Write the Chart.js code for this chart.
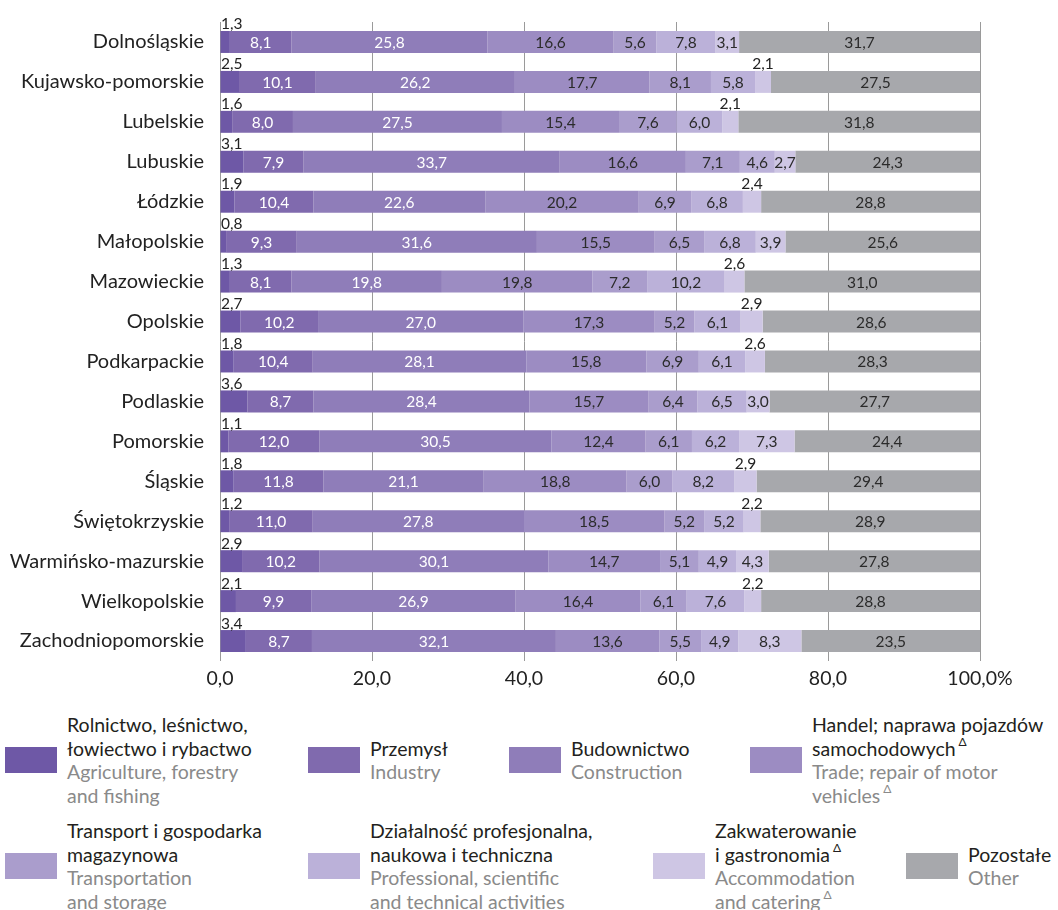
<!DOCTYPE html>
<html lang="pl">
<head>
  <meta charset="UTF-8">
  <title>Struktura pracujących według sekcji</title>
  <script src="https://cdn.jsdelivr.net/npm/chart.js"></script>
  <style>
    body {
      margin: 0;
      padding: 0;
      background: #fff;
      font-family: Lato, "Open Sans", sans-serif;
      width: 1058px;
      height: 910px;
      overflow: hidden;
      position: relative;
    }
    .wykres {
      position: absolute;
      left: 0;
      top: 0;
      width: 1058px;
      height: 700px;
    }
    .legenda-wiersz {
      position: absolute;
      left: 0;
      width: 1058px;
      height: 120px;
    }
    .pozycja {
      position: absolute;
      top: 0;
      height: 120px;
      display: flex;
      align-items: center;
    }
    .kolor {
      width: 52px;
      height: 26px;
      margin-right: 10px;
      flex: none;
    }
    .opis {
      font-size: 19.5px;
      line-height: 23.5px;
      color: #231f20;
      white-space: nowrap;
    }
    .opis .en { color: #8a8a8a; }
    .opis sup { font-size: 12px; line-height: 0; position: relative; top: -2px; margin-left: 3px; }
  </style>
</head>
<body>
  <div class="wykres"><canvas id="wykres"></canvas></div>

  <div class="legenda-wiersz" style="top:700px">
    <div class="pozycja" style="left:5px"><div class="kolor" style="background:#6e58a6"></div>
      <div class="opis">Rolnictwo, leśnictwo,<br>łowiectwo i rybactwo<br><span class="en">Agriculture, forestry<br>and fishing</span></div></div>
    <div class="pozycja" style="left:308px"><div class="kolor" style="background:#806aae"></div>
      <div class="opis">Przemysł<br><span class="en">Industry</span></div></div>
    <div class="pozycja" style="left:509px"><div class="kolor" style="background:#8f7db9"></div>
      <div class="opis">Budownictwo<br><span class="en">Construction</span></div></div>
    <div class="pozycja" style="left:750px"><div class="kolor" style="background:#9c8cc2"></div>
      <div class="opis">Handel; naprawa pojazdów<br>samochodowych<sup>Δ</sup><br><span class="en">Trade; repair of motor<br>vehicles<sup>Δ</sup></span></div></div>
  </div>

  <div class="legenda-wiersz" style="top:806px">
    <div class="pozycja" style="left:5px"><div class="kolor" style="background:#aa9dcc"></div>
      <div class="opis">Transport i gospodarka<br>magazynowa<br><span class="en">Transportation<br>and storage</span></div></div>
    <div class="pozycja" style="left:308px"><div class="kolor" style="background:#bbb1d9"></div>
      <div class="opis">Działalność profesjonalna,<br>naukowa i techniczna<br><span class="en">Professional, scientific<br>and technical activities</span></div></div>
    <div class="pozycja" style="left:653px"><div class="kolor" style="background:#cec6e4"></div>
      <div class="opis">Zakwaterowanie<br>i gastronomia<sup>Δ</sup><br><span class="en">Accommodation<br>and catering<sup>Δ</sup></span></div></div>
    <div class="pozycja" style="left:906px"><div class="kolor" style="background:#a7a8ac"></div>
      <div class="opis">Pozostałe<br><span class="en">Other</span></div></div>
  </div>

  <script>
    // Województwa
    const wojewodztwa = ['Dolnośląskie', 'Kujawsko-pomorskie', 'Lubelskie', 'Lubuskie', 'Łódzkie',
      'Małopolskie', 'Mazowieckie', 'Opolskie', 'Podkarpackie', 'Podlaskie', 'Pomorskie',
      'Śląskie', 'Świętokrzyskie', 'Warmińsko-mazurskie', 'Wielkopolskie', 'Zachodniopomorskie'];

    // Udział sekcji w %
    const rolnictwo      = [1.3, 2.5, 1.6, 3.1, 1.9, 0.8, 1.3, 2.7, 1.8, 3.6, 1.1, 1.8, 1.2, 2.9, 2.1, 3.4];
    const przemysl       = [8.1, 10.1, 8.0, 7.9, 10.4, 9.3, 8.1, 10.2, 10.4, 8.7, 12.0, 11.8, 11.0, 10.2, 9.9, 8.7];
    const budownictwo    = [25.8, 26.2, 27.5, 33.7, 22.6, 31.6, 19.8, 27.0, 28.1, 28.4, 30.5, 21.1, 27.8, 30.1, 26.9, 32.1];
    const handel         = [16.6, 17.7, 15.4, 16.6, 20.2, 15.5, 19.8, 17.3, 15.8, 15.7, 12.4, 18.8, 18.5, 14.7, 16.4, 13.6];
    const transport      = [5.6, 8.1, 7.6, 7.1, 6.9, 6.5, 7.2, 5.2, 6.9, 6.4, 6.1, 6.0, 5.2, 5.1, 6.1, 5.5];
    const profesjonalna  = [7.8, 5.8, 6.0, 4.6, 6.8, 6.8, 10.2, 6.1, 6.1, 6.5, 6.2, 8.2, 5.2, 4.9, 7.6, 4.9];
    const zakwaterowanie = [3.1, 2.1, 2.1, 2.7, 2.4, 3.9, 2.6, 2.9, 2.6, 3.0, 7.3, 2.9, 2.2, 4.3, 2.2, 8.3];
    const pozostale      = [31.7, 27.5, 31.8, 24.3, 28.8, 25.6, 31.0, 28.6, 28.3, 27.7, 24.4, 29.4, 28.9, 27.8, 28.8, 23.5];

    // Wiersze, w których etykieta zakwaterowania stoi nad słupkiem
    const zakwNadSlupkiem = [1, 2, 4, 6, 7, 8, 11, 12, 14];

    const osX = [0, 20, 40, 60, 80, 100];

    const serie = [
      { label: 'Rolnictwo, leśnictwo, łowiectwo i rybactwo', data: rolnictwo, color: '#6e58a6', text: '#fff' },
      { label: 'Przemysł', data: przemysl, color: '#806aae', text: '#fff' },
      { label: 'Budownictwo', data: budownictwo, color: '#8f7db9', text: '#fff' },
      { label: 'Handel; naprawa pojazdów samochodowych', data: handel, color: '#9c8cc2', text: '#2b2b2b' },
      { label: 'Transport i gospodarka magazynowa', data: transport, color: '#aa9dcc', text: '#2b2b2b' },
      { label: 'Działalność profesjonalna, naukowa i techniczna', data: profesjonalna, color: '#bbb1d9', text: '#2b2b2b' },
      { label: 'Zakwaterowanie i gastronomia', data: zakwaterowanie, color: '#cec6e4', text: '#2b2b2b' },
      { label: 'Pozostałe', data: pozostale, color: '#a7a8ac', text: '#2b2b2b' }
    ];

    const fmt = v => v.toFixed(1).replace('.', ',');

    // Etykiety wartości
    const etykiety = {
      id: 'etykiety',
      afterDatasetsDraw(chart) {
        const ctx = chart.ctx;
        ctx.save();
        ctx.font = '15.5px Lato, "Open Sans", sans-serif';
        chart.data.datasets.forEach((ds, i) => {
          const meta = chart.getDatasetMeta(i);
          meta.data.forEach((bar, j) => {
            const p = bar.getProps(['x', 'y', 'base', 'height'], true);
            const txt = fmt(ds.data[j]);
            const top = p.y - p.height / 2;
            if (i === 0) {
              ctx.fillStyle = '#222';
              ctx.textAlign = 'left';
              ctx.textBaseline = 'alphabetic';
              ctx.fillText(txt, chart.scales.x.left + 1, top - 1.5);
            } else if (i === 6 && zakwNadSlupkiem.includes(j)) {
              ctx.fillStyle = '#222';
              ctx.textAlign = 'center';
              ctx.textBaseline = 'alphabetic';
              ctx.fillText(txt, (p.x + p.base) / 2, top - 1.5);
            } else {
              ctx.fillStyle = serie[i].text;
              ctx.textAlign = 'center';
              ctx.textBaseline = 'middle';
              ctx.fillText(txt, (p.x + p.base) / 2, p.y + 1);
            }
          });
        });
        ctx.restore();
      }
    };

    new Chart(document.getElementById('wykres'), {
      type: 'bar',
      data: {
        labels: wojewodztwa,
        datasets: serie.map(s => ({
          label: s.label,
          data: s.data,
          backgroundColor: s.color,
          borderWidth: 0,
          categoryPercentage: 1,
          barPercentage: 0.55
        }))
      },
      options: {
        indexAxis: 'y',
        responsive: true,
        maintainAspectRatio: false,
        animation: false,
        layout: { padding: { top: 22, right: 78, left: 0, bottom: 0 } },
        plugins: {
          legend: { display: false },
          tooltip: { enabled: false }
        },
        scales: {
          x: {
            stacked: true,
            min: 0,
            max: 100,
            afterBuildTicks: s => { s.ticks = osX.map(v => ({ value: v })); },
            afterFit: s => { s.height = 39; },
            grid: { color: '#9a9a9a', lineWidth: 1, drawTicks: false, tickLength: 0 },
            border: { display: false },
            ticks: {
              padding: 6,
              color: '#222',
              font: { family: 'Lato, "Open Sans", sans-serif', size: 19.5 },
              callback: v => v === 100 ? '100,0%' : fmt(v)
            }
          },
          y: {
            stacked: true,
            afterFit: s => { s.width = 220; },
            grid: { display: false },
            border: { display: false },
            ticks: {
              padding: 8,
              color: '#222',
              font: { family: 'Lato, "Open Sans", sans-serif', size: 20 }
            }
          }
        }
      },
      plugins: [etykiety]
    });
  </script>
</body>
</html>
